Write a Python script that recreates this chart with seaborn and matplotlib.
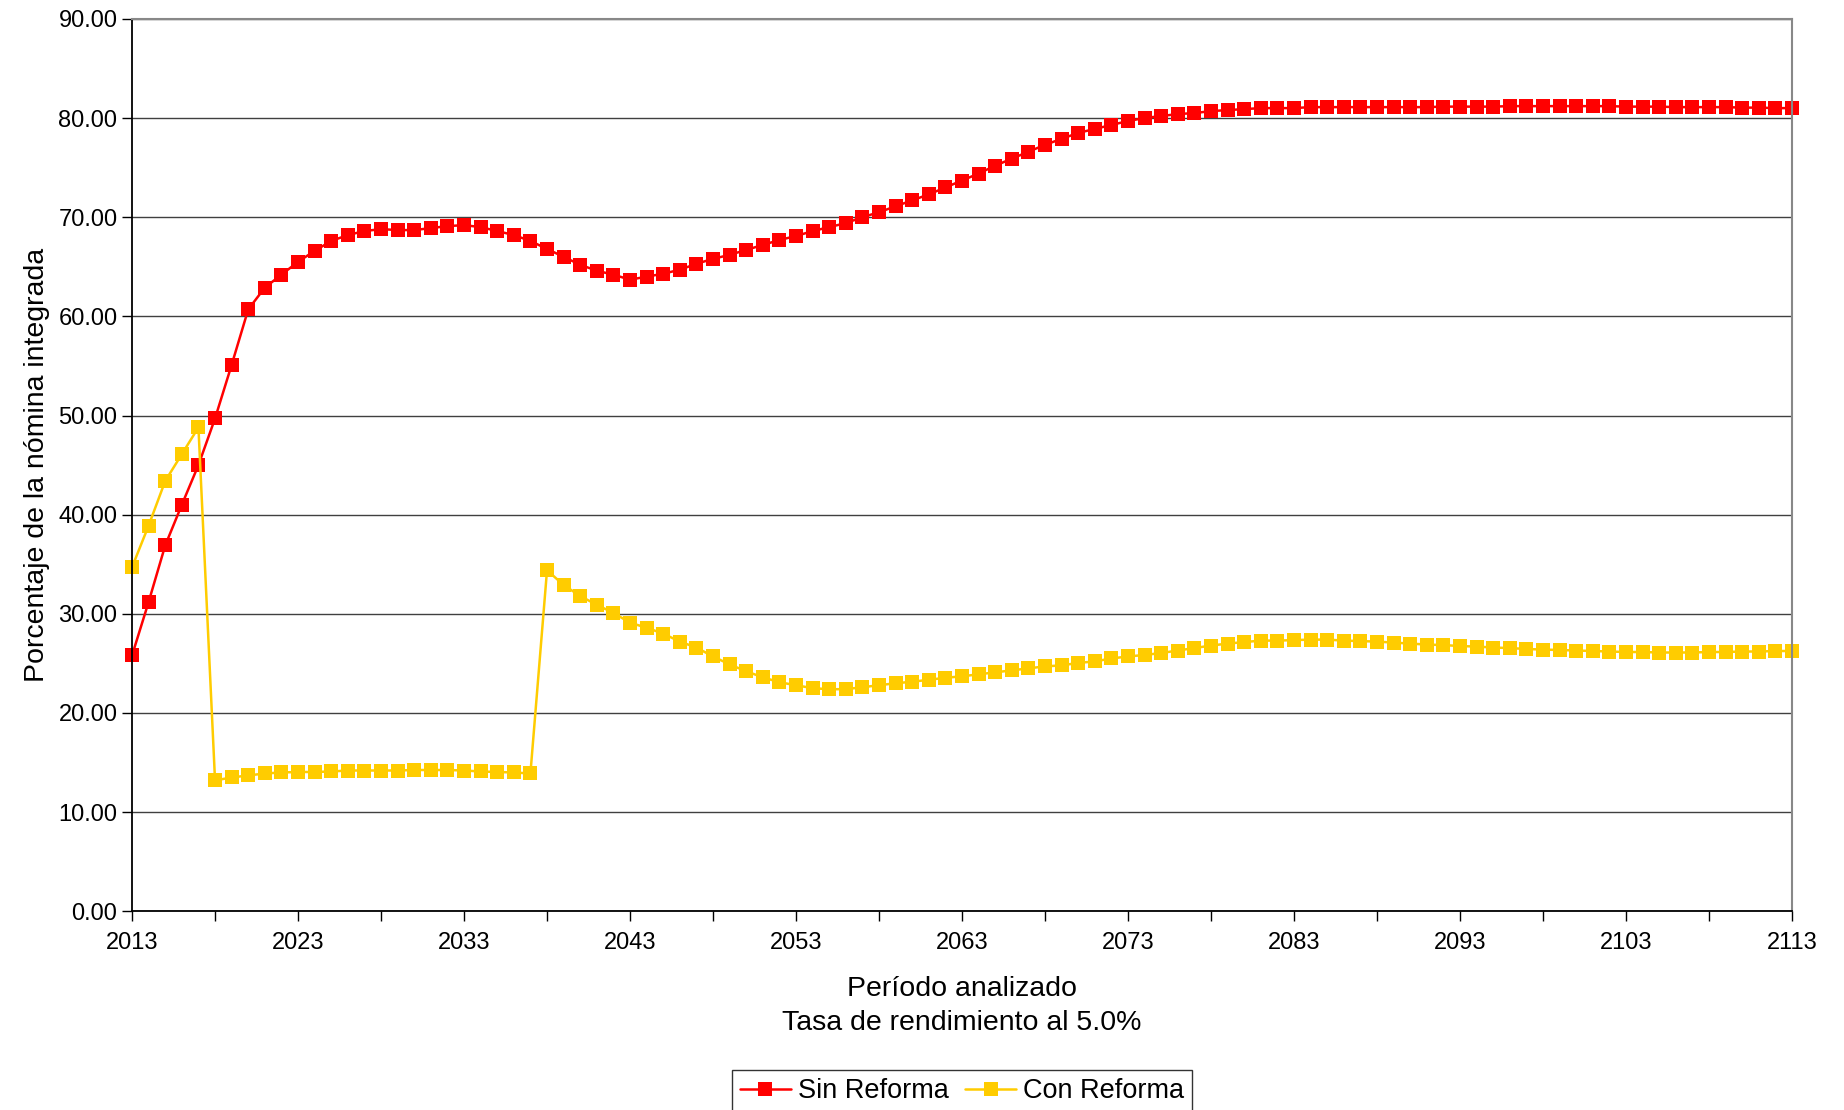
import pandas as pd
import seaborn as sns
import matplotlib.pyplot as plt

# Years of the projection
years = list(range(2013, 2114))

# Sin Reforma (% of payroll), one value per year 2013-2113
sin_reforma = [
    25.8, 31.2, 36.9, 41.0, 45.0, 49.7, 55.1, 60.7, 62.9, 64.2,
    65.5, 66.6, 67.6, 68.2, 68.6, 68.8, 68.7, 68.7, 68.9, 69.1,
    69.2, 69.0, 68.6,
    68.2, 67.6, 66.8, 66.0, 65.2, 64.6, 64.2, 63.7, 64.0, 64.3,
    64.7, 65.3, 65.8, 66.2, 66.7, 67.2, 67.7, 68.1, 68.6, 69.0,
    69.4, 70.0, 70.5, 71.1,
    71.7, 72.3, 73.0, 73.7, 74.4, 75.2, 75.9, 76.6, 77.3, 77.9,
    78.5, 78.9, 79.3, 79.7, 80.0, 80.2, 80.4, 80.5, 80.7, 80.8,
    80.9, 81.0, 81.0, 81.0, 81.1, 81.1, 81.1,
    81.1, 81.1, 81.1, 81.1, 81.1, 81.15, 81.15, 81.15, 81.15, 81.2,
    81.2, 81.2, 81.2, 81.2, 81.2, 81.2, 81.15, 81.15, 81.15, 81.1,
    81.1, 81.1, 81.1, 81.05, 81.05, 81.0, 81.0,
]

# Con Reforma (% of payroll)
con_reforma = [
    34.7, 38.9, 43.4, 46.1, 48.8, 13.2, 13.5, 13.7, 13.9, 14.0,
    14.05, 14.05, 14.1, 14.2, 14.2, 14.2, 14.2, 14.25, 14.25, 14.25,
    14.2, 14.1, 14.05, 14.0, 13.9,
    34.4, 32.9, 31.8, 30.9, 30.1, 29.1, 28.6, 28.0, 27.2, 26.6,
    25.7, 24.9, 24.2, 23.6, 23.1, 22.8, 22.5, 22.4, 22.4, 22.6,
    22.8, 23.0,
    23.15, 23.35, 23.55, 23.7, 23.9, 24.1, 24.3, 24.5, 24.7, 24.8,
    25.05, 25.2, 25.5, 25.7, 25.85, 26.05, 26.3, 26.55, 26.8, 27.0,
    27.15, 27.3, 27.3, 27.35,
    27.4, 27.4, 27.3, 27.25, 27.2, 27.1, 27.0, 26.9, 26.85, 26.75,
    26.7, 26.6, 26.55, 26.45, 26.4, 26.35, 26.3, 26.25, 26.2, 26.15,
    26.15, 26.1, 26.1, 26.1, 26.15, 26.15, 26.2, 26.2, 26.25, 26.25,
]

series_names = ["Sin Reforma", "Con Reforma"]
series_colors = ["#FF0000", "#FFCC00"]

df = pd.DataFrame({
    "anio": years * 2,
    "valor": sin_reforma + con_reforma,
    "serie": [series_names[0]] * len(years) + [series_names[1]] * len(years),
})

sns.set_theme(style="white")
plt.rcParams["font.family"] = ["Liberation Sans", "DejaVu Sans"]
plt.rcParams["text.color"] = "black"
plt.rcParams["axes.labelcolor"] = "black"

fig, ax = plt.subplots(figsize=(18.44, 11.10), dpi=100)
fig.subplots_adjust(left=0.0716, right=0.9718, top=0.983, bottom=0.179)

sns.lineplot(data=df, x="anio", y="valor", hue="serie",
             palette=dict(zip(series_names, series_colors)),
             style="serie", markers={n: "s" for n in series_names},
             dashes=False, markersize=10.5, markeredgewidth=0,
             linewidth=1.8, ax=ax, clip_on=False)

ax.set_xlim(2013, 2113)
ax.set_ylim(0, 90)

yt = list(range(0, 91, 10))
ax.set_yticks(yt)
ax.set_yticklabels([f"{v:.2f}" for v in yt])
xt = list(range(2013, 2114, 5))
ax.set_xticks(xt)
ax.set_xticklabels([str(v) if (v - 2013) % 10 == 0 else "" for v in xt])
ax.tick_params(axis="both", which="major", labelsize=17, length=7,
               width=1, color="black", direction="out",
               bottom=True, left=True, labelcolor="black")
ax.tick_params(axis="x", pad=8)

ax.yaxis.grid(True, color="#404040", linewidth=1)
ax.xaxis.grid(False)
ax.set_axisbelow(True)

for side in ["left", "bottom"]:
    ax.spines[side].set_color("black")
    ax.spines[side].set_linewidth(1.3)
for side in ["top", "right"]:
    ax.spines[side].set_color("#888888")
    ax.spines[side].set_linewidth(1.5)

ax.set_xlabel("Período analizado\nTasa de rendimiento al 5.0%",
              fontsize=20.5, labelpad=16, linespacing=1.4, color="black")
ax.set_ylabel("Porcentaje de la nómina integrada", fontsize=20.5,
              labelpad=6, color="black")

handles, labels = ax.get_legend_handles_labels()
leg = ax.legend(handles, labels, loc="upper center",
                bbox_to_anchor=(0.5, -0.178), ncol=2, fontsize=19.5,
                frameon=True, fancybox=False, edgecolor="black",
                handlelength=1.9, handletextpad=0.25, columnspacing=0.6,
                borderpad=0.3, borderaxespad=0)
leg.get_frame().set_linewidth(1)
for t in leg.get_texts():
    t.set_color("black")

plt.savefig("out.png", dpi=100)
